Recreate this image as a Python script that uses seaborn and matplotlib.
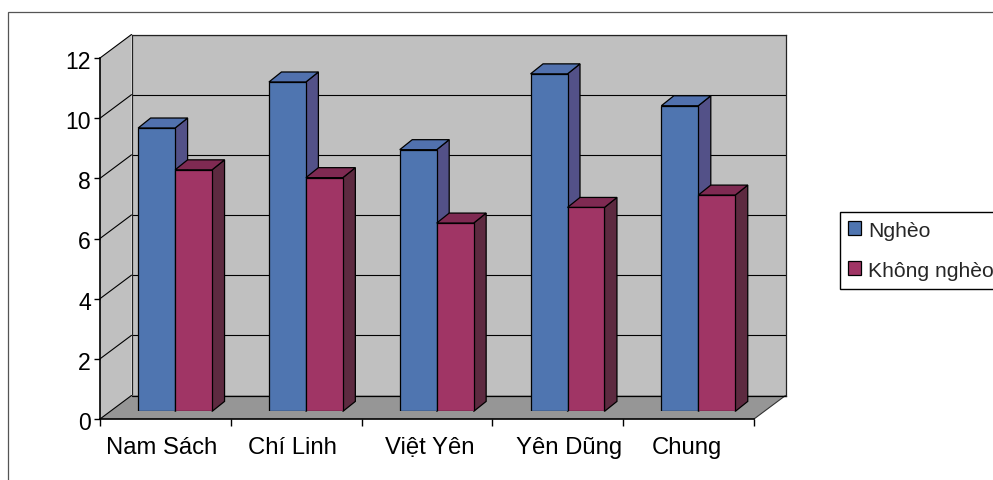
import matplotlib
matplotlib.use("Agg")
import matplotlib.pyplot as plt
import matplotlib.transforms as mtransforms
from matplotlib.patches import Polygon, Rectangle
from matplotlib.lines import Line2D
import pandas as pd
import seaborn as sns

regions = ["Nam Sách", "Chí Linh", "Việt Yên", "Yên Dũng", "Chung"]
ngheo = [9.42, 10.95, 8.70, 11.22, 10.16]
khong_ngheo = [8.03, 7.77, 6.26, 6.78, 7.19]
series_names = ["Nghèo", "Không nghèo"]
y_ticks = [0, 2, 4, 6, 8, 10, 12]

FRONT = ["#4f75b0", "#a03565"]
TOP = ["#5171ae", "#7f2a52"]
SIDE = ["#535188", "#5d2a40"]
WALL = "#c0c0c0"
FLOOR = "#969696"

W, H = 993, 481
AX_W, AX_H = 654, 361
BASE_Y = 420                    # pixel row of the front baseline, from the top
WALL_DX, WALL_DY = 31.5, 23.5   # depth of the chart box, in pixels
BAR_DX, BAR_DY = 12.5, 10       # depth of one bar, in pixels
LABEL_SHIFT = [-4, -4, 2.5, 11.5, -2]  # nudges for the category labels, in pixels

sns.set_theme(style="ticks")
plt.rcParams["font.family"] = ["Liberation Sans", "DejaVu Sans"]

df = pd.DataFrame({
    "region": regions * 2,
    "group": [series_names[0]] * 5 + [series_names[1]] * 5,
    "value": ngheo + khong_ngheo,
})

fig = plt.figure(figsize=(W / 100, H / 100), dpi=100, facecolor="white")


def box(left, bottom):
    return [left / W, bottom / H, AX_W / W, AX_H / H]


identity = mtransforms.IdentityTransform()

# Outer frame, running off the right and bottom of the canvas
fig.add_artist(Rectangle((8, -20), 1100, H - 13 + 20, transform=identity,
                         fill=False, edgecolor="#555555", linewidth=0.9))

# Back wall with its gridlines
back = fig.add_axes(box(100 + WALL_DX, H - BASE_Y + WALL_DY), facecolor=WALL, zorder=0)
back.set_xlim(-0.5, 4.5)
back.set_ylim(0, 12)
back.set_xticks([])
back.set_yticks(y_ticks)
back.tick_params(axis="y", length=0, labelleft=False)
back.grid(axis="y", color="black", linewidth=0.8)
for spine in back.spines.values():
    spine.set_visible(True)
    spine.set_color("#222222")
    spine.set_linewidth(0.9)

# Front plane carries the axes, side wall and floor
ax = fig.add_axes(box(100, H - BASE_Y), zorder=1)
ax.patch.set_alpha(0)
ax.set_xlim(-0.5, 4.5)
ax.set_ylim(0, 12)
ax.set_yticks(y_ticks)
ax.set_xticks([i - 0.5 for i in range(len(regions) + 1)])
ax.set_xticklabels([])
ax.set_xticks(range(len(regions)), minor=True)
ax.set_xticklabels(regions, minor=True)
ax.tick_params(axis="x", which="major", length=5, width=1, color="black", direction="out")
ax.tick_params(axis="x", which="minor", length=0, pad=12, labelsize=17.2, labelcolor="black")
ax.tick_params(axis="y", length=4.5, width=1, color="black", pad=2, labelsize=16.6, labelcolor="black")
ax.spines["top"].set_visible(False)
ax.spines["right"].set_visible(False)
for side in ("left", "bottom"):
    ax.spines[side].set_color("black")
    ax.spines[side].set_linewidth(1.2)
for label, shift in zip(ax.get_xticklabels(minor=True), LABEL_SHIFT):
    label.set_transform(label.get_transform() + mtransforms.Affine2D().translate(shift, 0))
for label in ax.get_yticklabels():
    label.set_transform(label.get_transform() + mtransforms.Affine2D().translate(0, -1))


def front_px(x, y):
    return ax.transData.transform((x, y))


x0, x1 = ax.get_xlim()
bl, br = front_px(x0, 0), front_px(x1, 0)
tl = front_px(x0, 12)
depth = (WALL_DX, WALL_DY)
shift_pt = lambda p: (p[0] + depth[0], p[1] + depth[1])

ax.add_patch(Polygon([bl, tl, shift_pt(tl), shift_pt(bl)], closed=True, transform=identity,
                     facecolor=WALL, edgecolor="none", clip_on=False, zorder=0.5))
ax.add_patch(Polygon([bl, br, shift_pt(br), shift_pt(bl)], closed=True, transform=identity,
                     facecolor=FLOOR, edgecolor="none", clip_on=False, zorder=0.6))
for v in y_ticks[1:]:
    p = front_px(x0, v)
    q = shift_pt(p)
    ax.add_line(Line2D([p[0], q[0]], [p[1], q[1]], transform=identity, color="black",
                       linewidth=0.8, clip_on=False, zorder=0.7))
for a in (bl, br):
    b = shift_pt(a)
    ax.add_line(Line2D([a[0], b[0]], [a[1], b[1]], transform=identity,
                       color="black" if a is bl else "#333333",
                       linewidth=0.8, clip_on=False, zorder=0.7))
b = shift_pt(bl)
c = shift_pt(br)
ax.add_line(Line2D([b[0], c[0]], [b[1], c[1]], transform=identity, color="black",
                   linewidth=0.9, clip_on=False, zorder=0.7))

# Bars stand a little way into the box, so they get their own shifted axes
bars = fig.add_axes(box(109.7, H - (BASE_Y - 7.6)), zorder=2)
sns.barplot(data=df, x="region", y="value", hue="group", order=regions, hue_order=series_names,
            palette=FRONT, saturation=1, width=0.565, gap=0, edgecolor="black", linewidth=0.9,
            errorbar=None, legend=False, ax=bars)
bars.set_xlim(-0.5, 4.5)
bars.set_ylim(0, 12)
bars.axis("off")
bars.patch.set_alpha(0)

handles = []
for s, container in enumerate(bars.containers):
    handles.append(container[0])
    for i, rect in enumerate(container):
        base = 3 + i * 10 + s * 4
        xa, xb = rect.get_x(), rect.get_x() + rect.get_width()
        top = rect.get_height()
        p_bl = bars.transData.transform((xb, 0))
        p_tr = bars.transData.transform((xb, top))
        p_tl = bars.transData.transform((xa, top))
        off = lambda p: (p[0] + BAR_DX, p[1] + BAR_DY)
        bars.add_patch(Polygon([p_bl, p_tr, off(p_tr), off(p_bl)], closed=True, transform=identity,
                               facecolor=SIDE[s], edgecolor="black", linewidth=0.9,
                               clip_on=False, zorder=base))
        bars.add_patch(Polygon([p_tl, p_tr, off(p_tr), off(p_tl)], closed=True, transform=identity,
                               facecolor=TOP[s], edgecolor="black", linewidth=0.9,
                               clip_on=False, zorder=base + 1))
        rect.set_zorder(base + 2)

fig.legend(handles, series_names, loc="lower left",
           bbox_to_anchor=(839.5 / W, (H - 289.5) / H), borderaxespad=0,
           fontsize=15.2, handlelength=0.6, handleheight=0.6, handletextpad=0.33,
           labelspacing=1.0, borderpad=0.42, frameon=True, fancybox=False,
           framealpha=1, edgecolor="black", facecolor="white")

fig.savefig("out.png", dpi=100)
